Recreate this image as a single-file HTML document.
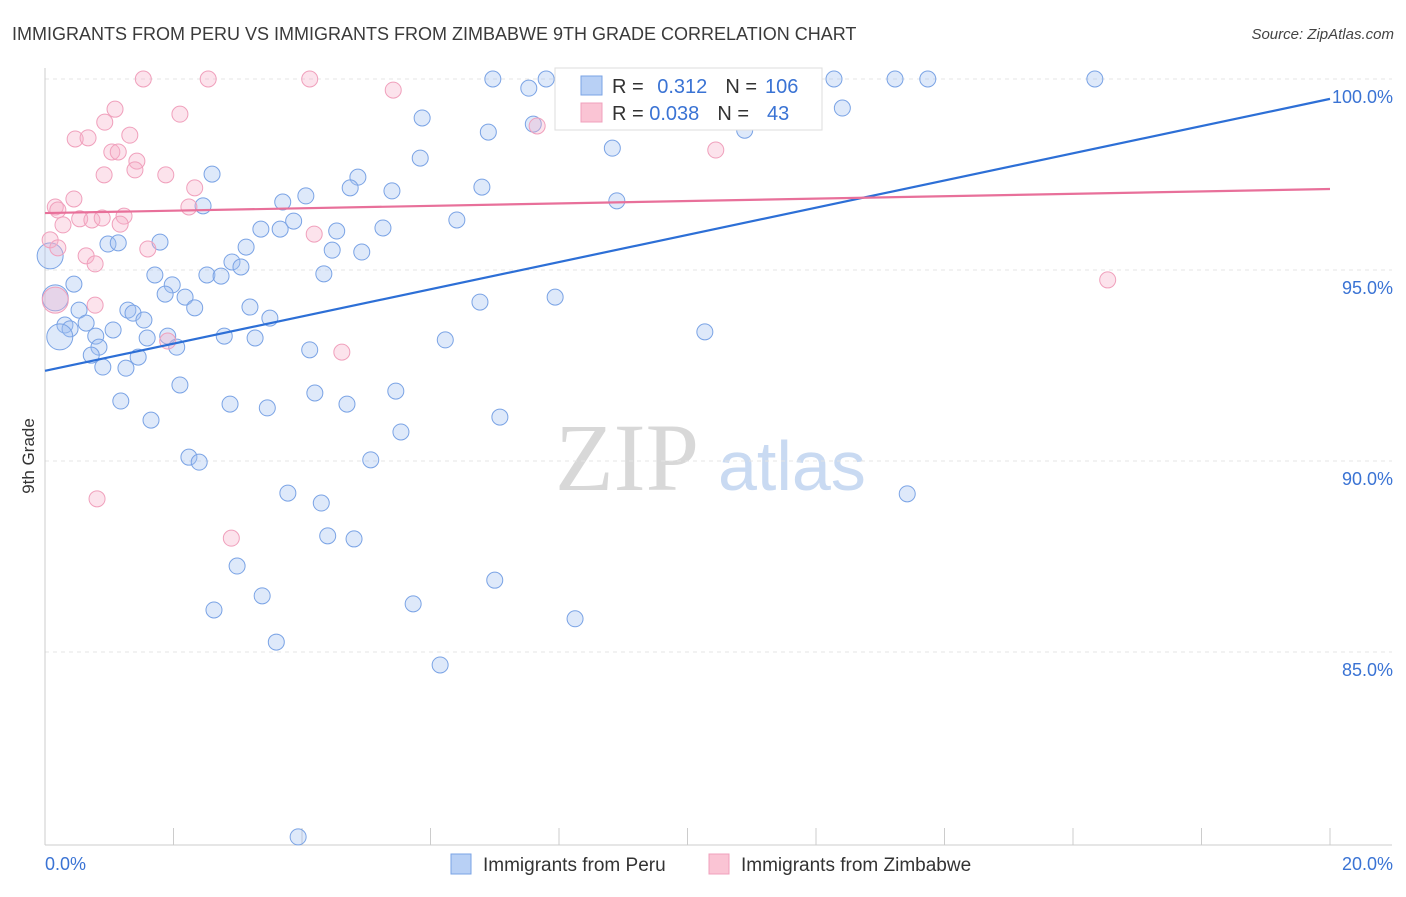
<!DOCTYPE html>
<html><head><meta charset="utf-8"><style>
body{margin:0;background:#fff;font-family:"Liberation Sans",sans-serif}
</style></head><body>
<svg id="c" width="1406" height="892" viewBox="0 0 1406 892" xmlns="http://www.w3.org/2000/svg" font-family="Liberation Sans, sans-serif">
<text x="12" y="40" font-size="18" fill="#3a3a3a">IMMIGRANTS FROM PERU VS IMMIGRANTS FROM ZIMBABWE 9TH GRADE CORRELATION CHART</text>
<text x="1394" y="39" font-size="15" fill="#444" font-style="italic" text-anchor="end">Source: ZipAtlas.com</text>
<text x="555" y="490" font-size="96" fill="#d8d8d8" font-family="Liberation Serif, serif">ZIP</text>
<text x="718" y="490" font-size="70" fill="#c9daf2">atlas</text>
<g id="grid"></g>
<g id="axes"></g>
<g id="pts"></g>
<g id="lines"></g>
<text transform="translate(34,456) rotate(-90)" font-size="17" fill="#333" text-anchor="middle">9th Grade</text>
<g>
<rect x="555" y="68" width="267" height="62" fill="#fff" stroke="#ddd"/>
<rect x="581" y="76" width="21" height="19" fill="#b8d0f5" stroke="#7aa3e5"/>
<rect x="581" y="103" width="21" height="19" fill="#fac4d4" stroke="#f0a0bc"/>
<text x="612" y="93" font-size="20" fill="#333">R = <tspan fill="#3a73d4" dx="8">0.312</tspan><tspan fill="#333" dx="18">N =</tspan><tspan fill="#3a73d4" dx="8">106</tspan></text>
<text x="612" y="120" font-size="20" fill="#333">R = <tspan fill="#3a73d4">0.038</tspan><tspan fill="#333" dx="18">N =</tspan><tspan fill="#3a73d4" dx="18">43</tspan></text>
</g>
<g>
<rect x="451" y="854" width="20" height="20" fill="#b8d0f5" stroke="#7aa3e5"/>
<text x="483" y="871" font-size="19" fill="#333">Immigrants from Peru</text>
<rect x="709" y="854" width="20" height="20" fill="#fac4d4" stroke="#f0a0bc"/>
<text x="741" y="871" font-size="19" fill="#333">Immigrants from Zimbabwe</text>
</g>
</svg>
<script>
const peruX=[6.97,7.80,7.53,9.49,12.28,13.23,13.74,16.34,12.41,5.87,7.60,6.90,10.89,8.83,5.84,2.60,4.87,4.75,5.40,6.80,4.06,3.70,2.46,8.90,6.41,3.87,3.36,3.66,4.54,5.26,1.79,0.98,1.14,3.13,4.47,4.93,0.08,2.91,3.05,1.71,2.52,2.74,4.34,1.98,0.45,1.87,2.18,0.16,6.77,7.94,1.29,0.53,1.37,2.33,3.19,1.54,0.64,3.50,0.31,0.39,1.06,0.79,0.23,1.59,1.91,2.79,3.27,0.84,2.05,6.23,10.27,0.72,4.12,1.45,0.90,1.26,2.10,1.18,4.20,5.46,2.88,3.46,4.70,1.65,7.08,5.54,2.24,2.40,5.07,3.78,4.30,13.42,4.40,4.81,2.99,7.00,3.38,2.63,5.73,8.25,3.60,6.15,3.94];
const peruY=[100,100,99.76,100,100,100,100,100,99.24,98.98,98.82,98.61,98.66,98.19,97.93,97.51,97.43,97.15,97.07,97.17,96.94,96.78,96.68,96.81,96.31,96.28,96.07,96.07,96.02,96.10,95.73,95.68,95.71,95.60,95.52,95.47,95.37,95.21,95.08,94.87,94.87,94.84,94.90,94.61,94.63,94.37,94.29,94.27,94.16,94.29,93.95,93.95,93.87,94.01,94.03,93.69,93.61,93.74,93.56,93.46,93.43,93.27,93.25,93.22,93.27,93.27,93.22,92.98,92.98,93.17,93.38,92.77,92.91,92.72,92.46,92.43,91.99,91.57,91.78,91.83,91.49,91.39,91.49,91.07,91.15,90.76,90.10,89.97,90.03,89.16,88.90,89.14,88.04,87.96,87.25,86.88,86.47,86.10,86.26,85.87,85.26,84.66,80.16];
const zimX=[1.53,2.54,4.12,5.42,1.09,2.10,0.93,1.32,0.47,0.67,7.66,1.04,1.14,10.44,1.43,1.40,0.92,1.88,2.33,0.45,0.16,0.20,2.24,1.23,0.54,0.73,0.89,1.17,0.28,4.19,0.08,0.20,1.60,0.64,0.78,16.54,0.16,0.78,1.91,4.62,0.81,2.90];
const zimY=[100,100,100,99.71,99.21,99.08,98.87,98.53,98.43,98.46,98.77,98.09,98.09,98.14,97.85,97.62,97.49,97.49,97.15,96.86,96.65,96.57,96.65,96.41,96.34,96.31,96.36,96.20,96.18,95.94,95.79,95.58,95.55,95.37,95.16,94.74,94.21,94.08,93.14,92.85,89.01,87.98];
const bigPeru=[36,47,62];
const bigZim=[36];
const yTicks=[100,95,90,85];
const yTickLabels=["100.0%","95.0%","90.0%","85.0%"];
const xTickLabels=["0.0%","20.0%"];
const peruTrend=[92.36,99.48];
const zimTrend=[96.49,97.12];
const NS='http://www.w3.org/2000/svg';
const X=v=>45+v/20*1285;
const Y=v=>79+(100-v)*38.2;
function mk(tag,attrs,parent){const e=document.createElementNS(NS,tag);for(const k in attrs)e.setAttribute(k,attrs[k]);document.getElementById(parent).appendChild(e);return e;}
yTicks.forEach((t,i)=>{
 const g=mk('line',{x1:45,x2:1392,y1:Y(t),y2:Y(t),stroke:'#e4e4e4','stroke-dasharray':'4,4'},'grid');
 
 
 const l=mk('text',{x:1393,y:Y(t)+24,'font-size':18,fill:'#3a73d4','text-anchor':'end'},'grid');
 l.textContent=yTickLabels[i];
 
 
});
const ax=mk('line',{x1:45,x2:1392,y1:845,y2:845,stroke:'#ccc'},'axes');


const ay=mk('line',{x1:45,x2:45,y1:68,y2:845,stroke:'#ccc'},'axes');


for(let i=0;i<=10;i++){
 const t=mk('line',{x1:X(i*2),x2:X(i*2),y1:828,y2:845,stroke:'#ccc'},'axes');
 
 
}
[[0,'start',45],[20,'end',1393]].forEach((d,i)=>{
 const t=mk('text',{x:d[2],y:870,'font-size':18,fill:'#3a73d4','text-anchor':d[1]},'axes');
 t.textContent=xTickLabels[i];
 
 
});
peruX.forEach((x,i)=>{
 const c=mk('circle',{cx:X(x),cy:Y(peruY[i]),r:bigPeru.includes(i)?13:8,fill:'rgba(160,192,242,0.35)',stroke:'#7aa3e5','stroke-width':1},'pts');
 
 
});
zimX.forEach((x,i)=>{
 const c=mk('circle',{cx:X(x),cy:Y(zimY[i]),r:bigZim.includes(i)?13:8,fill:'rgba(246,176,200,0.35)',stroke:'#f0a0bc','stroke-width':1},'pts');
 
 
});
const l1=mk('line',{x1:X(0),y1:Y(peruTrend[0]),x2:X(20),y2:Y(peruTrend[1]),stroke:'#2d6fd6','stroke-width':2.2},'lines');


const l2=mk('line',{x1:X(0),y1:Y(zimTrend[0]),x2:X(20),y2:Y(zimTrend[1]),stroke:'#e8709a','stroke-width':2.2},'lines');


</script>
</body></html>
